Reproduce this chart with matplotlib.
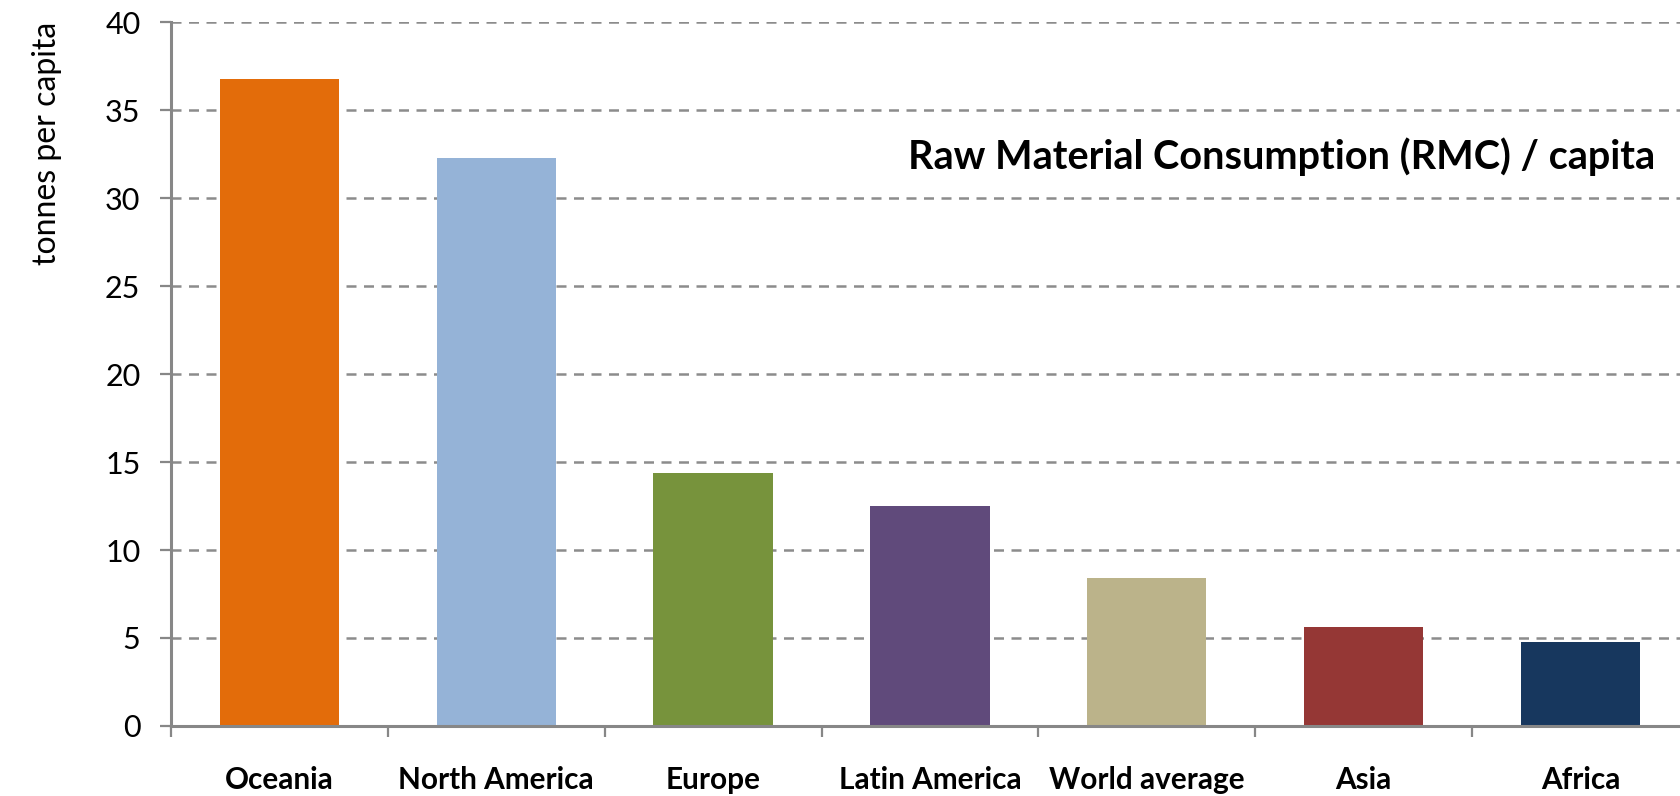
#!/usr/bin/env python3
import matplotlib
matplotlib.use('Agg')
import matplotlib.pyplot as plt

plt.rcParams['font.family'] = ['Lato', 'DejaVu Sans']

regions = ['Oceania', 'North America', 'Europe', 'Latin America',
           'World average', 'Asia', 'Africa']
rmc = [36.8, 32.3, 14.4, 12.5, 8.4, 5.6, 4.8]
colors = ['#E36C0A', '#95B3D7', '#77933C', '#604A7B',
          '#BBB38A', '#953735', '#17375E']
yticks = [0, 5, 10, 15, 20, 25, 30, 35, 40]

fig = plt.figure(figsize=(16.8, 7.96), dpi=100)
ax = fig.add_axes([0.1018, 0.088, 0.9035, 0.884])

xx = range(len(regions))
ax.bar(xx, rmc, width=0.55, color=colors, zorder=2)

ax.set_ylim(0, 40)
ax.set_xlim(-0.5, len(regions) - 0.5)
ax.set_yticks(yticks)
ax.yaxis.grid(True, linestyle=(0, (4, 3)), color='#8c8c8c', linewidth=1.8, zorder=1)
ax.set_axisbelow(True)

for s in ['top', 'right']:
    ax.spines[s].set_visible(False)
for s in ['left', 'bottom']:
    ax.spines[s].set_color('#878787')
    ax.spines[s].set_linewidth(2.2)
    ax.spines[s].set_zorder(3)

ax.set_xticks(list(xx))
ax.set_xticklabels(regions, fontsize=21.4, fontweight='bold')
ax.tick_params(axis='x', which='major', length=0, pad=29)
ax.set_xticks([i - 0.5 for i in range(len(regions) + 1)], minor=True)
ax.tick_params(axis='x', which='minor', length=8, width=1.6, color='#878787')
ax.tick_params(axis='y', length=8, width=1.6, color='#878787', labelsize=22, pad=14)

fig.text(0.028, 0.82, 'tonnes per capita', rotation=90, fontsize=23,
         ha='center', va='center')
ax.text(0.985, 0.803, 'Raw Material Consumption (RMC) / capita',
        transform=fig.transFigure, fontsize=28.5, fontweight='bold',
        ha='right', va='center')

plt.savefig('out.png')
